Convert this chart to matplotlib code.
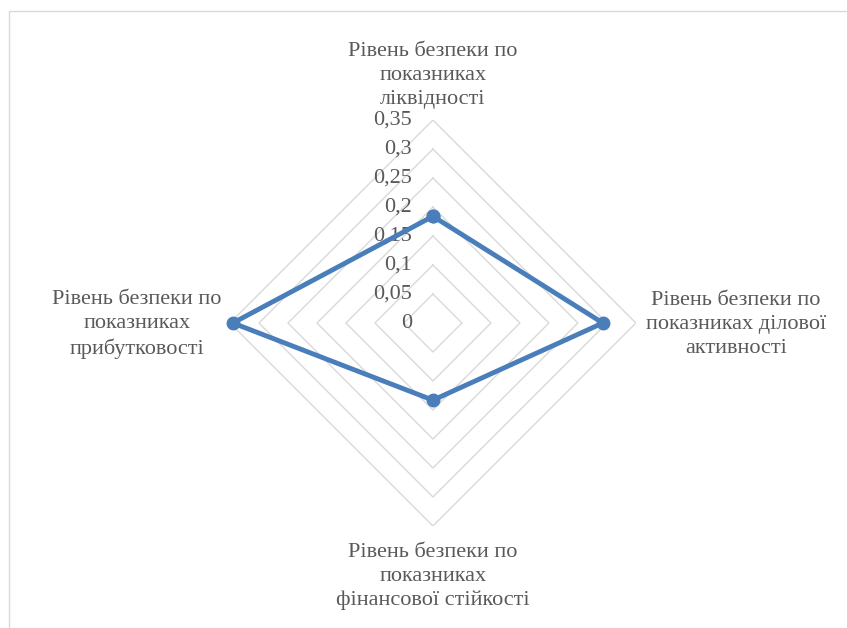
import numpy as np
import matplotlib.pyplot as plt
from matplotlib.patches import Rectangle

categories = [
    "Рівень безпеки по\nпоказниках\nліквідності",
    "Рівень безпеки по\nпоказниках ділової\nактивності",
    "Рівень безпеки по\nпоказниках\nфінансової стійкості",
    "Рівень безпеки по\nпоказниках\nприбутковості",
]
values = [0.184, 0.293, 0.133, 0.345]
levels = [0, 0.05, 0.1, 0.15, 0.2, 0.25, 0.3, 0.35]
level_labels = ["0", "0,05", "0,1", "0,15", "0,2", "0,25", "0,3", "0,35"]

TEXT = "#595959"
GRID = "#d9d9d9"
BLUE = "#4a7ebb"

plt.rcParams["font.family"] = ["Liberation Serif", "DejaVu Serif"]

fig = plt.figure(figsize=(8.47, 6.28), dpi=100)
fig.patches.append(Rectangle((9 / 847, -0.1), 1.2, (628 - 11) / 628 + 0.1,
                             transform=fig.transFigure, fill=False,
                             edgecolor=GRID, linewidth=1.0))

ax = fig.add_axes([0.2715, 0.1624, 0.4793, 0.6465], projection="polar")
ax.set_theta_offset(np.pi / 2)
ax.set_theta_direction(-1)
ax.set_ylim(0, 0.35)
ax.grid(False)
ax.spines["polar"].set_visible(False)
ax.set_xticks([])
ax.set_yticks([])
ax.patch.set_alpha(0)

angles = np.linspace(0, 2 * np.pi, len(categories), endpoint=False)
closed = np.append(angles, angles[0])

for lev in levels[1:]:
    ax.plot(closed, [lev] * len(closed), color=GRID, linewidth=1.0, zorder=1)

for lev, lab in zip(levels, level_labels):
    ax.annotate(lab, xy=(0, lev), xytext=(-15, 0), textcoords="offset points",
                ha="right", va="center", fontsize=16, color=TEXT)

ax.plot(closed, np.append(values, values[0]), color=BLUE, linewidth=3.5,
        marker="o", markersize=9, zorder=3, clip_on=False)

offsets = [(0, 8, "center", "bottom"), (7, -1, "left", "center"),
           (0, -12, "center", "top"), (-6, -1, "right", "center")]
for ang, cat, (dx, dy, ha, va) in zip(angles, categories, offsets):
    ax.annotate(cat, xy=(ang, 0.35), xytext=(dx, dy), textcoords="offset points",
                ha=ha, va=va, ma="center", fontsize=16, color=TEXT,
                linespacing=1.36, annotation_clip=False)

fig.savefig("out.png", dpi=100)
